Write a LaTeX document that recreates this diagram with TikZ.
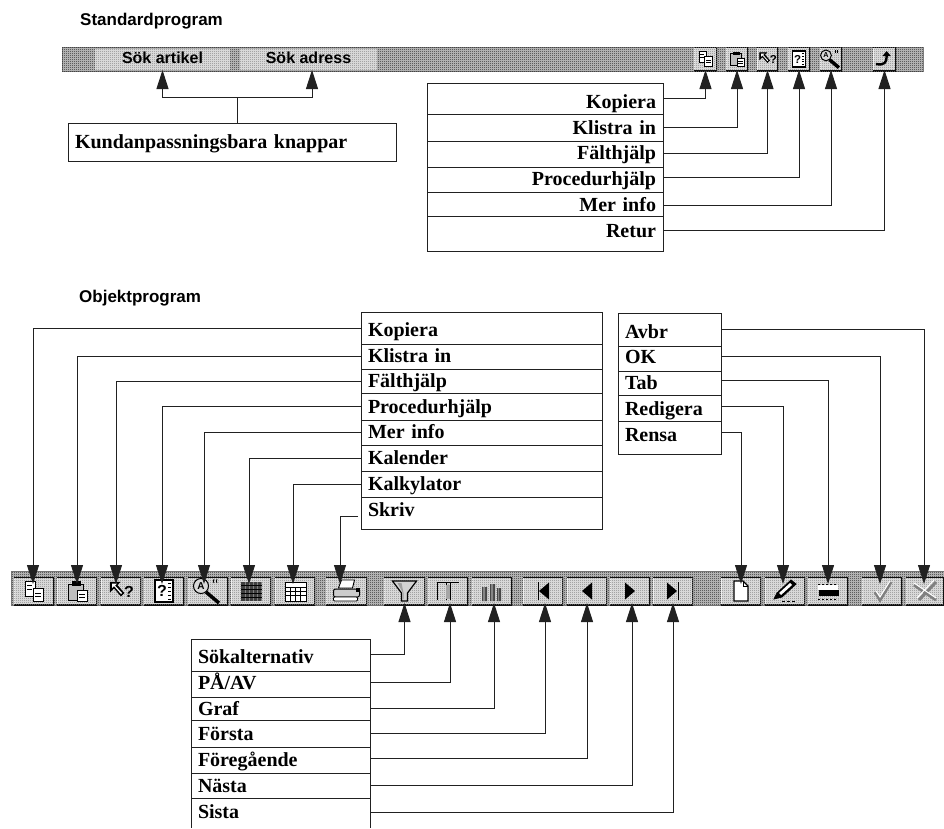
\documentclass[tikz,border=0pt]{standalone}
\usepackage{fontspec}
\setmainfont{Liberation Serif}
\newfontfamily\headfont{Liberation Sans}
\usetikzlibrary{arrows.meta,patterns}
\pgfdeclarepatternformonly{dith}{\pgfqpoint{0pt}{0pt}}{\pgfqpoint{2pt}{2pt}}{\pgfqpoint{2pt}{2pt}}{%
  \pgfpathrectangle{\pgfqpoint{0pt}{0pt}}{\pgfqpoint{1pt}{1pt}}%
  \pgfpathrectangle{\pgfqpoint{1pt}{1pt}}{\pgfqpoint{1pt}{1pt}}%
  \pgfusepath{fill}}
\definecolor{ink}{gray}{0.13}
\tikzset{
  x=1pt,y=-1pt,
  ink line/.style={draw=ink,line width=1pt},
  rowbox/.style={ink line,inner xsep=7pt,inner ysep=0pt,outer sep=0pt,font=\fontsize{20}{22}\selectfont\bfseries},
  rowr/.style={align=right},
  rowl/.style={align=left},
  head/.style={anchor=base west,inner sep=0pt,font=\headfont\fontsize{17}{20}\selectfont\bfseries},
  conn/.style={ink line,-{Triangle[width=12pt,length=19pt]}},
  plain conn/.style={ink line},
  bar/.style={draw=gray,line width=.8pt,fill=gray!45,postaction={pattern=dith,pattern color=black!85}},
  btnface/.style={fill=white!80!gray,postaction={pattern=dith,pattern color=gray}},
  btn/.style={btnface,inner sep=0pt,outer sep=0pt,minimum height=#1,
    path picture={
      \draw[white,line width=2pt] (path picture bounding box.south west) -- (path picture bounding box.north west) -- (path picture bounding box.north east);
      \draw[black,line width=1.6pt] (path picture bounding box.north west) -- (path picture bounding box.north east) -- (path picture bounding box.south east) -- (path picture bounding box.south west);
    }},
  txtbtn/.style={btnface,inner sep=0pt,outer sep=0pt,font=\headfont\fontsize{16}{18}\selectfont\bfseries},
  ic/.style={draw=black,line width=.9pt,fill=white},
  ik/.style={draw=black,fill=black,line width=.5pt},
  iq/.style={inner sep=0pt,font=\headfont\bfseries\fontsize{#1}{#1}\selectfont},
  icopy/.pic={
    \draw[ic] (-9,-10) rectangle (1,5);
    \draw[ic] (-1,-3) rectangle (9,10);
    \draw[line width=.8pt] (-7,-6)--(-2,-6) (-7,-2)--(-2,-2) (1,2)--(7,2) (1,5)--(7,5);},
  ipaste/.pic={
    \draw[draw=black,line width=1pt,fill=gray!50] (-9,-7) rectangle (6,9);
    \draw[ik] (-5,-10) rectangle (3,-6);
    \draw[ic] (0,-1) rectangle (10,10);
    \draw[line width=.8pt] (2,3)--(8,3) (2,6)--(8,6);},
  ifield/.pic={
    \draw[ik] (-11,-9)--(-1,-9)--(-4,-6)--(3,2)--(0,5)--(-7,-3)--(-11,1)--cycle;
    \fill[white] (-9,-7.5)--(-4,-7.5)--(-6,-5.5)--(1,2)--(0,3)--(-7,-5)--(-9,-3)--cycle;
    \node[iq=16] at (8,1) {?};},
  iproc/.pic={
    \draw[ic,line width=1.4pt] (-9,-11) rectangle (9,11);
    \node[iq=16] at (-2,0) {?};
    \draw[line width=1pt] (4,-8)--(7,-8) (4,-4)--(7,-4) (4,0)--(7,0) (4,4)--(7,4) (4,8)--(7,8);},
  imag/.pic={
    \draw[draw=black,line width=1pt,fill=gray!30] (-7,-5) circle (7.5);
    \node[iq=10] at (-7,-5) {A};
    \draw[line width=3.5pt] (-2,1)--(11,12);
    \draw[line width=.8pt] (6,-8) arc (-40:40:-3) (9,-8) arc (-40:40:-3);},
  ireturn/.pic={
    \draw[line width=2.4pt] (-12,7) .. controls (0,9) and (3,5) .. (3,-4);
    \fill (-3,-4)--(3,-11)--(9,-4)--cycle;},
  icalendar/.pic={
    \fill[black!75] (-10,-9) rectangle (11,10);
    \foreach \u in {-6,-2,...,10} \draw[gray,line width=.8pt] (\u,-9)--(\u,10);
    \foreach \v in {-6,-2,...,9} \draw[black,line width=.8pt] (-10,\v)--(11,\v);},
  icalc/.pic={
    \draw[ic] (-10,-9) rectangle (11,10);
    \fill[black] (-10,-9) rectangle (11,-8);
    \foreach \u in {-5,0,5} \draw[line width=.8pt] (\u,-4)--(\u,10);
    \foreach \v in {-4,0,4} \draw[line width=.8pt] (-10,\v)--(11,\v);},
  iprint/.pic={
    \draw[ic] (-5,-11)--(8,-11)--(6,-3)--(-8,-3)--cycle;
    \draw[draw=black,line width=1pt,fill=gray!40,rounded corners=2pt] (-13,-2) rectangle (13,6);
    \draw[ic,rounded corners=1pt] (-13,6) rectangle (11,10);
    \fill (9,-3) rectangle (13,1);},
  ifunnel/.pic={
    \draw[draw=black,line width=1.2pt,fill=gray!35] (-12,-10)--(12,-10)--(3,2)--(3,10)--(-3,10)--(-3,2)--cycle;
    \fill[gray!75] (-7,-8)--(-3,-8)--(-1,2)--(-1,8)--(-2,8)--(-2,1)--cycle;},
  ionoff/.pic={
    \draw[line width=1pt] (-11,9)--(-11,-9)--(11,-9);
    \draw[line width=.8pt] (-2,-9)--(-2,9) (2,-9)--(2,9);
    \fill[gray!70] (-2,-6) rectangle (2,8);},
  igraph/.pic={
    \fill[gray!55!black] (-10,-4) rectangle (-5,10) (-2,-7) rectangle (3,10) (5,-3) rectangle (9,10);
    \fill[white,opacity=.35] (-9,-4) rectangle (-7,10) (-1,-7) rectangle (1,10) (6,-3) rectangle (7,10);},
  ifirst/.pic={\fill (-5.5,-9) rectangle (-4.5,9); \fill (6,-8.5)--(-4,0)--(6,8.5)--cycle;},
  iprev/.pic={\fill (-5,0)--(5,-8.5)--(5,8.5)--cycle;},
  inext/.pic={\fill (5,0)--(-5,-8.5)--(-5,8.5)--cycle;},
  ilast/.pic={\fill (4.5,-9) rectangle (5.5,9); \fill (-6,-8.5)--(4,0)--(-6,8.5)--cycle;},
  inew/.pic={
    \draw[ic,line width=1.2pt] (-7,-10)--(2,-10)--(7,-5)--(7,10)--(-7,10)--cycle;
    \draw[line width=.9pt] (2,-10)--(2,-5)--(7,-5);},
  iedit/.pic={
    \draw[ik,line width=.8pt] (-11,8)--(-8,2)--(6,-11)--(11,-7)--(-3,6)--cycle;
    \fill[white] (-6,2)--(5,-8)--(7,-6)--(-4,4)--cycle;
    \draw[line width=1pt,dash pattern=on 3pt off 2pt] (-3,10)--(11,10);},
  itab/.pic={
    \draw[line width=1pt,dash pattern=on 2pt off 2pt] (-10,-7)--(10,-7);
    \fill[white] (-10,-6) rectangle (10,-1);
    \fill (-9,-1) rectangle (11,5);
    \draw[line width=1pt,dash pattern=on 2pt off 2pt] (-10,8)--(10,8);},
  icheck/.pic={
    \draw[gray,line width=3pt] (-7,1)--(-2,9)--(9,-9);
    \draw[white,line width=1pt] (-6,0)--(-2,6)--(8,-10);},
  icancel/.pic={
    \draw[gray,line width=3pt] (-11,-6)--(11,9) (11,-9)--(-6,9);
    \draw[white,line width=1pt] (-11,-8)--(11,7) (9,-11)--(-8,7);},
}
\newcommand\rowcell[8]{% style, name, x0, y0, x1, y1, baseline, text
  \pgfmathsetmacro\rw{#5-#3-14}\pgfmathsetmacro\rh{#7-#4}\pgfmathsetmacro\rd{#6-#7}%
  \node[rowbox,#1,text width=\rw pt,text height=\rh pt,text depth=\rd pt,anchor=north west] (#2) at (#3,#4) {#8};}
\begin{document}
\begin{tikzpicture}
\useasboundingbox (0,0) rectangle (944,828);
\fill[white] (0,0) rectangle (944,828);

% headings
\node[head] (h1) at (80,25) {Standardprogram};
\node[head] (h2) at (79,302) {Objektprogram};

% standard bar
\node[bar,minimum width=861pt,minimum height=24pt,inner sep=0pt,outer sep=0pt,anchor=north west] (topbar) at (62,47) {};
\node[txtbtn,minimum width=135pt,minimum height=21pt,text height=14pt,text depth=7pt,anchor=north west] (sa) at (95,49) {Sök artikel};
\node[txtbtn,minimum width=137pt,minimum height=21pt,text height=14pt,text depth=7pt,anchor=north west] (sb) at (240,49) {Sök adress};
\foreach \n/\a/\b/\p in {t1/694/717/icopy,t2/726/748/ipaste,t3/757/778/ifield,t4/788/810/iproc,t5/820/842/imag,t6/873/896/ireturn}{
  \node[btn=24pt,minimum width={(\b-\a)*1pt},anchor=center] (\n) at ({(\a+\b)/2},59) {};
  \pic[transform shape,scale=.72] at (\n) {\p};
}

% customisable box
\rowcell{rowl}{kund}{68}{123}{396}{161}{148}{Kundanpassningsbara knappar}
\coordinate (fork) at (237,97);
\draw[plain conn] ([xshift=5pt]kund.north) -- (fork);
\draw[conn] (fork) -| (sa.south);
\draw[conn] (fork) -| ([xshift=3.5pt]sb.south);

% top right list
\rowcell{rowr}{a1}{427}{83}{663}{114}{108}{Kopiera}
\rowcell{rowr}{a2}{427}{114}{663}{141}{134}{Klistra in}
\rowcell{rowr}{a3}{427}{141}{663}{167}{159}{Fälthjälp}
\rowcell{rowr}{a4}{427}{167}{663}{192}{185}{Procedurhjälp}
\rowcell{rowr}{a5}{427}{192}{663}{216}{211}{Mer info}
\rowcell{rowr}{a6}{427}{216}{663}{251}{237}{Retur}
\foreach \r/\n/\d in {a1/t1/0,a2/t2/-0.5,a3/t3/-1,a4/t4/-2.5,a5/t5/1,a6/t6/-3}
  \draw[conn] ([yshift=\d*-1pt]\r.east) -| ([yshift=1pt]\n.south);

% bottom bar
\node[bar,minimum width=933pt,minimum height=34pt,inner sep=0pt,outer sep=0pt,anchor=north west] (botbar) at (11,571) {};
\foreach \n/\a/\b/\p in {
  b1/14/54/icopy,b2/57/97/ipaste,b3/101/141/ifield,b4/144/184/iproc,b5/188/228/imag,b6/231/271/icalendar,b7/275/315/icalc,b8/326/367/iprint,
  b9/384/425/ifunnel,b10/428/468/ionoff,b11/472/512/igraph,b12/523/563/ifirst,b13/567/607/iprev,b14/610/650/inext,b15/653/693/ilast,
  b16/721/761/inew,b17/765/805/iedit,b18/808/848/itab,b19/862/902/icheck,b20/906/944/icancel}{
  \node[btn=28pt,minimum width={(\b-\a)*1pt},anchor=center] (\n) at ({(\a+\b)/2},591) {};
  \pic at (\n) {\p};
}

% object list
\rowcell{rowl}{c1}{361}{312}{602}{344}{336}{Kopiera}
\rowcell{rowl}{c2}{361}{344}{602}{369}{362}{Klistra in}
\rowcell{rowl}{c3}{361}{369}{602}{393}{387}{Fälthjälp}
\rowcell{rowl}{c4}{361}{393}{602}{420}{413}{Procedurhjälp}
\rowcell{rowl}{c5}{361}{420}{602}{445}{438}{Mer info}
\rowcell{rowl}{c6}{361}{445}{602}{471}{464}{Kalender}
\rowcell{rowl}{c7}{361}{471}{602}{497}{490}{Kalkylator}
\rowcell{rowl}{c8}{361}{497}{602}{529}{516}{Skriv}
\foreach \r/\n/\dx in {c1/b1/-1,c2/b2/0,c3/b3/-5,c4/b4/-2,c5/b5/-4,c6/b6/-2,c7/b7/-2}
  \draw[conn] (\r.west) -| ([xshift=\dx*1pt,yshift=-7pt]\n.north);
\draw[conn] ([xshift=-3pt,yshift=-3pt]c8.west) -| ([xshift=-6.5pt,yshift=-7pt]b8.north);

% action list
\rowcell{rowl}{d1}{618}{313}{721}{346}{338}{Avbr}
\rowcell{rowl}{d2}{618}{346}{721}{371}{363}{OK}
\rowcell{rowl}{d3}{618}{371}{721}{395}{389}{Tab}
\rowcell{rowl}{d4}{618}{395}{721}{421}{415}{Redigera}
\rowcell{rowl}{d5}{618}{421}{721}{454}{441}{Rensa}
\foreach \r/\n/\dx/\d in {d1/b20/-1/0,d2/b19/-2/-2.5,d3/b18/0/-3,d4/b17/-2/-2,d5/b16/0/-5}
  \draw[conn] ([yshift=\d*-1pt]\r.east) -| ([xshift=\dx*1pt,yshift=-7pt]\n.north);

% filter and navigation list
\rowcell{rowl}{e1}{191}{639}{370}{671}{663}{Sökalternativ}
\rowcell{rowl}{e2}{191}{671}{370}{697}{689}{PÅ/AV}
\rowcell{rowl}{e3}{191}{697}{370}{720}{715}{Graf}
\rowcell{rowl}{e4}{191}{720}{370}{747}{740}{Första}
\rowcell{rowl}{e5}{191}{747}{370}{773}{766}{Föregående}
\rowcell{rowl}{e6}{191}{773}{370}{798}{792}{Nästa}
\rowcell{rowl,draw=none}{e7}{191}{798}{370}{828}{818}{Sista}
\draw[ink line] (e7.north west) -- (e7.south west) (e7.north east) -- (e7.south east);
\foreach \r/\n/\dx/\d in {e1/b9/0/-1,e2/b10/2/-2,e3/b11/2/0,e4/b12/2/0,e5/b13/0/-2,e6/b14/2/0,e7/b15/0/-1}
  \draw[conn] ([yshift=\d*-1pt]\r.east) -| ([xshift=\dx*1pt,yshift=2pt]\n.south);
\end{tikzpicture}
\end{document}
